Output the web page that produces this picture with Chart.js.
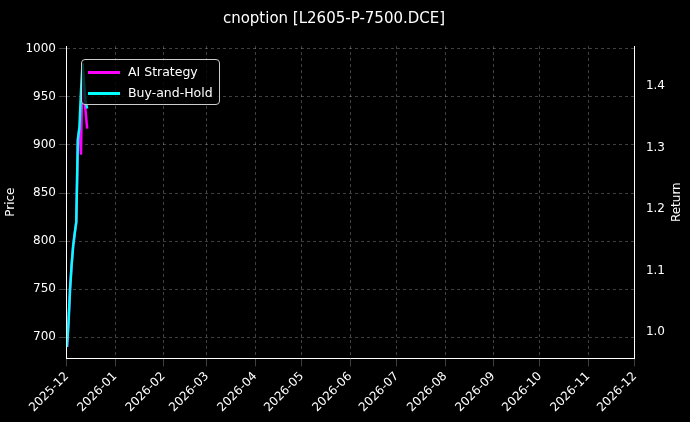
<!DOCTYPE html><html><head><script src="https://cdn.jsdelivr.net/npm/chart.js@4"></script>
<style>body{margin:0;background:#000}#w{position:relative;width:690px;height:422px}
#lg{position:absolute;left:81px;top:59px;border:1px solid #ccc;border-radius:4px;background:rgba(0,0,0,.8);padding:1px 6px;font:12.5px "DejaVu Sans";color:#fff;line-height:21px}
#lg span{display:inline-block;width:32px;height:3px;vertical-align:middle;margin-right:8px}</style></head><body>
<div id="w"><canvas id="c" width="690" height="422"></canvas>
<div id="lg"><div><span style="background:#ff00ff"></span>AI Strategy</div><div><span style="background:#00ffff"></span>Buy-and-Hold</div></div></div>
<script>
const days=[0,1,2,3,4,5,6,7,8,9,10,11,12,13];
const aiPrice=[690,715,750,775,795,808,820,905,918,890,985,950,935,917];
const bhPrice=[690,715,750,775,795,808,820,905,918,955,985,965,945,938];
const monthDays=[0,31,62,90,121,151,182,212,243,274,304,335,365];
const monthLabels=['2025-12','2026-01','2026-02','2026-03','2026-04','2026-05','2026-06','2026-07','2026-08','2026-09','2026-10','2026-11','2026-12'];
const grid={color:'rgba(255,255,255,0.25)'};
const F={size:12,family:'DejaVu Sans'};
const rightTitle={id:'rt',afterDraw(c){const x=c.ctx,a=c.scales.y2;x.save();x.fillStyle='#fff';x.font='12px "DejaVu Sans"';x.translate(677,(a.top+a.bottom)/2);x.rotate(-Math.PI/2);x.textAlign='center';x.textBaseline='middle';x.fillText('Return',0,0);x.restore();}};
new Chart(document.getElementById('c'),{type:'line',plugins:[rightTitle],
data:{datasets:[
{data:days.map((d,i)=>({x:d,y:bhPrice[i]})),borderColor:'#00ffff',borderWidth:2.5,pointRadius:0,tension:0,order:0},
{data:days.map((d,i)=>({x:d,y:aiPrice[i]})),borderColor:'#ff00ff',borderWidth:2.5,pointRadius:0,tension:0,order:1}]},
options:{responsive:false,animation:false,layout:{padding:{left:0,right:22,top:6,bottom:4}},
plugins:{legend:{display:false},title:{display:true,text:'cnoption [L2605-P-7500.DCE]',color:'#fff',font:{size:15,family:'DejaVu Sans',weight:'normal'},padding:{top:4,bottom:18}}},
scales:{x:{type:'linear',min:0,max:365,afterBuildTicks:a=>{a.ticks=monthDays.map(v=>({value:v}))},
ticks:{color:'#fff',font:F,maxRotation:45,minRotation:45,callback:v=>monthLabels[monthDays.indexOf(v)]},grid:grid,border:{color:'#fff',dash:[3,3]}},
y:{min:678,max:1003,afterBuildTicks:a=>{a.ticks=[700,750,800,850,900,950,1000].map(v=>({value:v}))},ticks:{color:'#fff',font:F,callback:v=>String(v)},grid:grid,border:{color:'#fff',dash:[3,3]},title:{display:true,text:'Price',color:'#fff',font:F}},
y2:{position:'right',min:0.957,max:1.465,afterBuildTicks:a=>{a.ticks=[1.0,1.1,1.2,1.3,1.4].map(v=>({value:v}))},ticks:{color:'#fff',font:F,callback:v=>v.toFixed(1)},grid:{display:false},border:{color:'#fff'}}}}});
</script></body></html>
